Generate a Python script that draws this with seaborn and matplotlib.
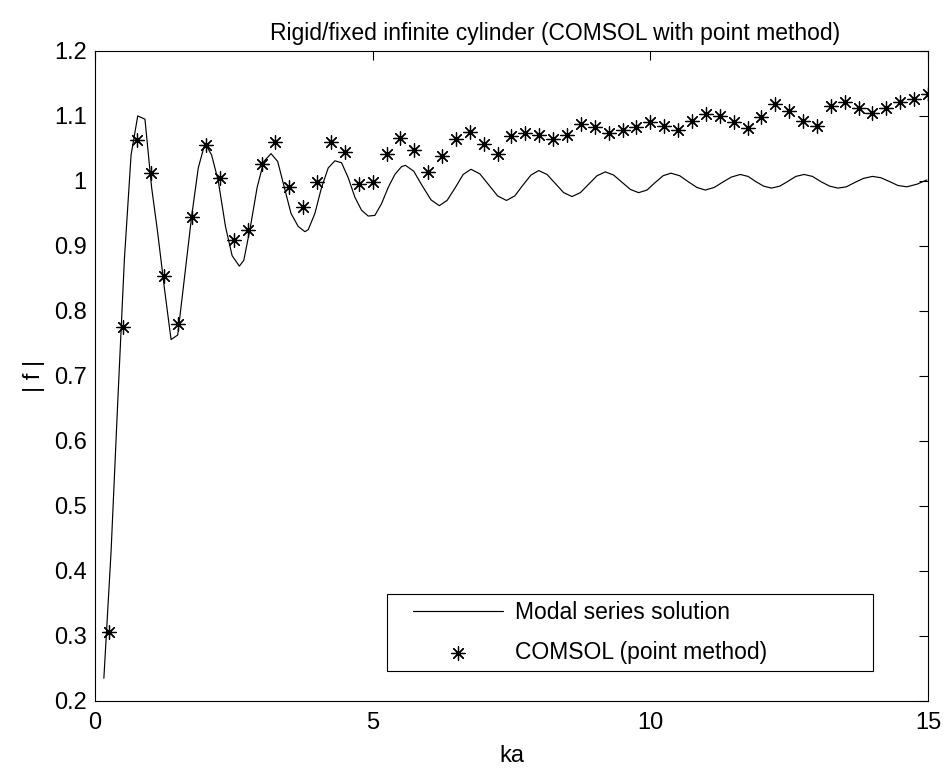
import seaborn as sns
import pandas as pd
import matplotlib.pyplot as plt
from matplotlib.ticker import FuncFormatter
from matplotlib.lines import Line2D
from matplotlib.collections import PathCollection
from matplotlib.legend_handler import HandlerLine2D, HandlerPathCollection

# modal series solution (polyline knots)
ka_line = [0.16, 0.29, 0.41, 0.53, 0.65, 0.77, 0.90, 1.02, 1.13, 1.25, 1.37, 1.49,
           1.61, 1.74, 1.86, 1.98, 2.10, 2.22, 2.35, 2.47, 2.60, 2.68, 2.80, 2.92,
           3.04, 3.17, 3.29, 3.41, 3.53, 3.66, 3.78, 3.84, 3.96, 4.08, 4.20, 4.32,
           4.44, 4.56, 4.68, 4.80, 4.92, 5.04, 5.16, 5.28, 5.40, 5.52, 5.59, 5.74,
           5.89, 6.05, 6.20, 6.34, 6.49, 6.63, 6.77, 6.93, 7.09, 7.25, 7.41, 7.56,
           7.70, 7.85, 7.99, 8.14, 8.29, 8.44, 8.59, 8.74, 8.89, 9.04, 9.19, 9.34,
           9.49, 9.64, 9.79, 9.94, 10.08, 10.23, 10.37, 10.53, 10.68, 10.84, 10.99,
           11.15, 11.30, 11.46, 11.62, 11.76, 11.90, 12.04, 12.18, 12.33, 12.47,
           12.62, 12.77, 12.92, 13.07, 13.23, 13.38, 13.53, 13.69, 13.84, 14.00,
           14.15, 14.31, 14.46, 14.62, 14.80, 14.98]
f_line = [0.235, 0.43, 0.66, 0.88, 1.04, 1.100, 1.095, 0.99, 0.92, 0.835, 0.756, 0.763,
          0.85, 0.945, 1.02, 1.058, 1.04, 1.00, 0.93, 0.885, 0.869, 0.878, 0.93, 0.99,
          1.03, 1.042, 1.03, 0.99, 0.95, 0.93, 0.922, 0.925, 0.95, 0.99, 1.02, 1.031,
          1.028, 1.005, 0.975, 0.955, 0.946, 0.947, 0.965, 0.99, 1.01, 1.022, 1.024, 1.015,
          0.993, 0.971, 0.962, 0.970, 0.990, 1.010, 1.018, 1.011, 0.994, 0.977, 0.970, 0.977,
          0.993, 1.009, 1.016, 1.010, 0.996, 0.982, 0.976, 0.982, 0.995, 1.008, 1.014, 1.009,
          0.998, 0.987, 0.982, 0.986, 0.997, 1.008, 1.012, 1.008, 0.999, 0.990, 0.986,
          0.990, 0.998, 1.006, 1.010, 1.007, 0.999, 0.992, 0.989, 0.992, 0.999,
          1.007, 1.010, 1.007, 0.999, 0.992, 0.989, 0.991, 0.998, 1.004, 1.007,
          1.005, 0.999, 0.993, 0.991, 0.995, 1.0015]

# COMSOL point method
ka_pts = [0.25, 0.5, 0.75, 1.0, 1.25, 1.5, 1.75, 2.0, 2.25, 2.5, 2.75, 3.0,
          3.25, 3.5, 3.75, 4.0, 4.25, 4.5, 4.75, 5.0, 5.25, 5.5, 5.75, 6.0,
          6.25, 6.5, 6.75, 7.0, 7.25, 7.5, 7.75, 8.0, 8.25, 8.5, 8.75, 9.0,
          9.25, 9.5, 9.75, 10.0, 10.25, 10.5, 10.75, 11.0, 11.25, 11.5, 11.75, 12.0,
          12.25, 12.5, 12.75, 13.0, 13.25, 13.5, 13.75, 14.0, 14.25, 14.5, 14.75, 15.0]
f_pts = [0.306, 0.775, 1.063, 1.013, 0.854, 0.780, 0.945, 1.055, 1.004, 0.909, 0.925, 1.026,
         1.060, 0.991, 0.960, 0.999, 1.060, 1.044, 0.996, 0.998, 1.042, 1.066, 1.048, 1.014,
         1.039, 1.065, 1.075, 1.057, 1.042, 1.069, 1.074, 1.070, 1.065, 1.070, 1.088, 1.083,
         1.074, 1.078, 1.083, 1.090, 1.085, 1.078, 1.093, 1.103, 1.100, 1.090, 1.082, 1.098,
         1.118, 1.108, 1.093, 1.085, 1.115, 1.121, 1.113, 1.105, 1.113, 1.122, 1.126, 1.134]

sns.set_style("white", {"xtick.direction": "in", "ytick.direction": "in",
                        "axes.edgecolor": "black", "text.color": "black",
                        "axes.labelcolor": "black"})
plt.rcParams["font.family"] = ["Liberation Sans", "DejaVu Sans"]

line_df = pd.DataFrame({"ka": ka_line, "f": f_line})
pts_df = pd.DataFrame({"ka": ka_pts, "f": f_pts})

fig = plt.figure(figsize=(9.45, 7.72), dpi=100)
ax = fig.add_axes([0.1005, 0.092, 0.8815, 0.842])

sns.lineplot(line_df, x="ka", y="f", color="black", linewidth=0.85,
             sort=False, ax=ax, label="Modal series solution")
sns.scatterplot(pts_df, x="ka", y="f", marker=(8, 2, 0), s=95, color="black",
                linewidth=0.9, ax=ax, label="COMSOL (point method)")

ax.set_xlim(0, 15)
ax.set_ylim(0.2, 1.2)
ax.set_xlabel("ka", fontsize=17, labelpad=8)
ax.set_ylabel("| f |", fontsize=17, labelpad=6)
ax.set_title("Rigid/fixed infinite cylinder (COMSOL with point method)",
             fontsize=16.5, x=0.552, pad=8)
ax.set_xticks([0, 5, 10, 15])
ax.set_yticks([0.2, 0.3, 0.4, 0.5, 0.6, 0.7, 0.8, 0.9, 1.0, 1.1, 1.2])
ax.yaxis.set_major_formatter(FuncFormatter(lambda v, p: "%g" % round(v, 2)))
ax.tick_params(direction="in", length=6.5, width=0.8, top=True, right=True,
               labelsize=17, colors="black")
ax.tick_params(axis="x", pad=8)
ax.tick_params(axis="y", pad=6)
for sp in ax.spines.values():
    sp.set_linewidth(0.8)
    sp.set_color("black")

fs = 16.5
hmap = {Line2D: HandlerLine2D(xpad=0.83), PathCollection: HandlerPathCollection(xpad=0.83)}
leg = ax.legend(loc="lower left", bbox_to_anchor=(0.3505, 0.046, 0.5835, 0.12),
                mode="expand", borderaxespad=0, fancybox=False, framealpha=1,
                edgecolor="black", handlelength=4.76, handletextpad=0.52,
                borderpad=0.3, labelspacing=0.75, fontsize=fs, handler_map=hmap)
leg.get_frame().set_linewidth(0.8)

plt.savefig("out.png", dpi=100)
